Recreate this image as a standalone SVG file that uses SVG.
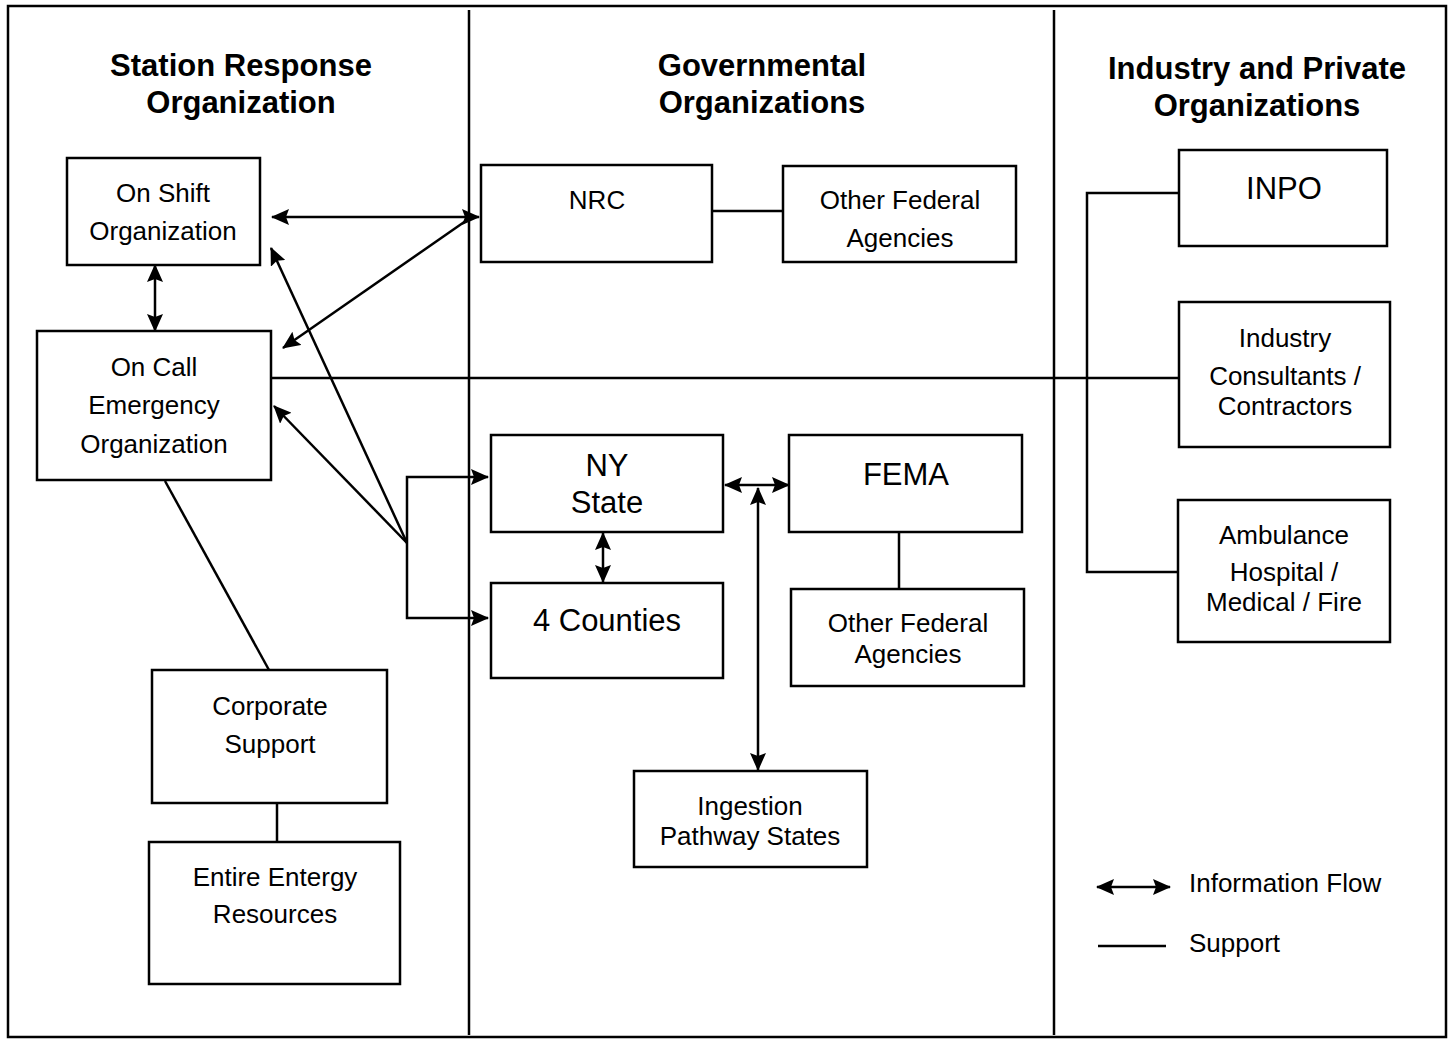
<svg xmlns="http://www.w3.org/2000/svg" width="1451" height="1042" viewBox="0 0 1451 1042">
<style>
.box{fill:#fff;stroke:#000;stroke-width:2.5}
.ln{fill:none;stroke:#000;stroke-width:2.5}
.t{font-family:"Liberation Sans",Arial,sans-serif;font-size:26px;fill:#000;text-anchor:middle}
.big{font-size:31px}
.h{font-family:"Liberation Sans",Arial,sans-serif;font-size:31px;font-weight:bold;fill:#000;text-anchor:middle}
.lg{font-family:"Liberation Sans",Arial,sans-serif;font-size:26px;fill:#000}
</style>
<defs>
<marker id="ah" viewBox="0 0 18 16" refX="17" refY="8" markerWidth="18" markerHeight="16" markerUnits="userSpaceOnUse" orient="auto-start-reverse">
<path d="M0,0 L18,8 L0,16 L3,8 z" fill="#000"/>
</marker>
</defs>
<rect width="1451" height="1042" fill="#fff"/>
<g id="frame">
<rect x="8" y="6" width="1438" height="1031" fill="none" stroke="#000" stroke-width="2.5"/>
<line x1="469" y1="10" x2="469" y2="1035" stroke="#000" stroke-width="2.5"/>
<line x1="1054" y1="10" x2="1054" y2="1035" stroke="#000" stroke-width="2.5"/>
</g>
<g id="headers">
<text class="h" x="241" y="76">Station Response</text>
<text class="h" x="241" y="113">Organization</text>
<text class="h" x="762" y="76">Governmental</text>
<text class="h" x="762" y="113">Organizations</text>
<text class="h" x="1257" y="79">Industry and Private</text>
<text class="h" x="1257" y="116">Organizations</text>
</g>
<g id="connectors">
<line class="ln" x1="272" y1="217" x2="479" y2="217" marker-start="url(#ah)" marker-end="url(#ah)"/>
<line class="ln" x1="470" y1="218" x2="283" y2="348" marker-end="url(#ah)"/>
<line class="ln" x1="407" y1="543" x2="271" y2="248" marker-end="url(#ah)"/>
<line class="ln" x1="407" y1="543" x2="274" y2="406" marker-end="url(#ah)"/>
<path class="ln" d="M488,477 H407 V618 H488" marker-start="url(#ah)" marker-end="url(#ah)"/>
<line class="ln" x1="603" y1="533" x2="603" y2="582" marker-start="url(#ah)" marker-end="url(#ah)"/>
<line class="ln" x1="725" y1="485" x2="789" y2="485" marker-start="url(#ah)" marker-end="url(#ah)"/>
<line class="ln" x1="758" y1="488" x2="758" y2="770" marker-start="url(#ah)" marker-end="url(#ah)"/>
<line class="ln" x1="899" y1="532" x2="899" y2="589"/>
<line class="ln" x1="712" y1="211" x2="783" y2="211"/>
<line class="ln" x1="155" y1="265" x2="155" y2="331" marker-start="url(#ah)" marker-end="url(#ah)"/>
<line class="ln" x1="271" y1="378" x2="1179" y2="378"/>
<line class="ln" x1="165" y1="481" x2="269" y2="670"/>
<line class="ln" x1="277" y1="803" x2="277" y2="842"/>
<path class="ln" d="M1179,193 H1087 V572 H1178"/>
</g>
<g id="on-shift">
<rect class="box" x="67" y="158" width="193" height="107"/>
<text class="t" x="163" y="202">On Shift</text>
<text class="t" x="163" y="240">Organization</text>
</g>
<g id="on-call">
<rect class="box" x="37" y="331" width="234" height="149"/>
<text class="t" x="154" y="376">On Call</text>
<text class="t" x="154" y="414">Emergency</text>
<text class="t" x="154" y="453">Organization</text>
</g>
<g id="corporate">
<rect class="box" x="152" y="670" width="235" height="133"/>
<text class="t" x="270" y="715">Corporate</text>
<text class="t" x="270" y="753">Support</text>
</g>
<g id="entergy">
<rect class="box" x="149" y="842" width="251" height="142"/>
<text class="t" x="275" y="886">Entire Entergy</text>
<text class="t" x="275" y="923">Resources</text>
</g>
<g id="nrc">
<rect class="box" x="481" y="165" width="231" height="97"/>
<text class="t" x="597" y="209">NRC</text>
</g>
<g id="other-federal-1">
<rect class="box" x="783" y="166" width="233" height="96"/>
<text class="t" x="900" y="209">Other Federal</text>
<text class="t" x="900" y="247">Agencies</text>
</g>
<g id="ny-state">
<rect class="box" x="491" y="435" width="232" height="97"/>
<text class="t big" x="607" y="476">NY</text>
<text class="t big" x="607" y="513">State</text>
</g>
<g id="fema">
<rect class="box" x="789" y="435" width="233" height="97"/>
<text class="t big" x="906" y="485">FEMA</text>
</g>
<g id="counties">
<rect class="box" x="491" y="583" width="232" height="95"/>
<text class="t big" x="607" y="631">4 Counties</text>
</g>
<g id="other-federal-2">
<rect class="box" x="791" y="589" width="233" height="97"/>
<text class="t" x="908" y="632">Other Federal</text>
<text class="t" x="908" y="663">Agencies</text>
</g>
<g id="ingestion">
<rect class="box" x="634" y="771" width="233" height="96"/>
<text class="t" x="750" y="815">Ingestion</text>
<text class="t" x="750" y="845">Pathway States</text>
</g>
<g id="inpo">
<rect class="box" x="1179" y="150" width="208" height="96"/>
<text class="t big" x="1284" y="199">INPO</text>
</g>
<g id="consultants">
<rect class="box" x="1179" y="302" width="211" height="145"/>
<text class="t" x="1285" y="347">Industry</text>
<text class="t" x="1285" y="385">Consultants /</text>
<text class="t" x="1285" y="415">Contractors</text>
</g>
<g id="ambulance">
<rect class="box" x="1178" y="500" width="212" height="142"/>
<text class="t" x="1284" y="544">Ambulance</text>
<text class="t" x="1284" y="581">Hospital /</text>
<text class="t" x="1284" y="611">Medical / Fire</text>
</g>
<g id="legend">
<line class="ln" x1="1097" y1="887" x2="1170" y2="887" marker-start="url(#ah)" marker-end="url(#ah)"/>
<text class="lg" x="1189" y="892">Information Flow</text>
<line class="ln" x1="1098" y1="946" x2="1166" y2="946"/>
<text class="lg" x="1189" y="952">Support</text>
</g>
</svg>
